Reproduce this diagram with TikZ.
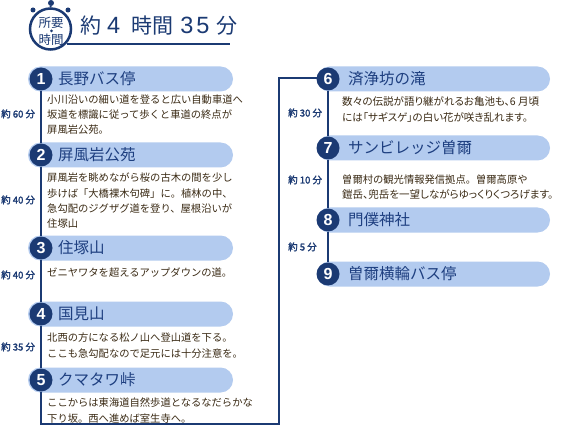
\documentclass[tikz,border=0pt]{standalone}
\usepackage{fontspec}
\setmainfont{Noto Sans CJK JP}
\newfontfamily\jp{Noto Sans CJK JP}
\newfontfamily\jpp[RawFeature=+palt]{Noto Sans CJK JP}
\newfontfamily\jpb[FakeBold=2]{Noto Sans CJK JP}
\newfontfamily\numf{Liberation Sans}
\usetikzlibrary{shapes.misc}
\definecolor{navy}{HTML}{1B3A73}
\definecolor{ttlc}{HTML}{1E3F80}
\definecolor{pillc}{HTML}{B3CBEF}
\definecolor{descc}{HTML}{3A2A14}
\begin{document}
\begin{tikzpicture}[x=1pt,y=-1pt,
 pill/.style={rounded rectangle, fill=pillc, minimum height=25pt, minimum width=#1, inner sep=0pt},
 num/.style={circle, fill=navy, minimum size=23pt, inner sep=0pt, text=white, font=\numf\bfseries\fontsize{16}{16}\selectfont},
 ttl/.style={anchor=west, inner sep=0pt, text=ttlc, font=\jp\fontsize{15.5}{16}\selectfont},
 desc/.style={anchor=base west, inner sep=0pt, text=descc, font=\jp\fontsize{10.3}{12}\selectfont},
 descp/.style={desc, font=\jpp\fontsize{10.5}{12}\selectfont},
 dur/.style={anchor=base west, inner sep=0pt, text=navy, font=\jpb\fontsize{9.5}{10}\selectfont},
 conn/.style={draw=navy, line width=2.2pt},
 knob/.style={circle, fill=navy, inner sep=0pt, minimum size=#1}]
\useasboundingbox (0,0) rectangle (564,430);
\fill[white] (0,0) rectangle (564,430);

% stopwatch header
\node[circle, draw=navy, line width=2.5pt, minimum size=41pt, inner sep=0pt] (sw) at (50.5,29) {};
\node[knob=6pt] (k1) at (51,3) {};
\node[knob=5pt] (k2) at (33,10) {};
\node[knob=5pt] (k3) at (68,10) {};
\draw[navy, line width=2pt] (k1) -- (sw.north);
\node[inner sep=0pt, text=navy, font=\jp\fontsize{12.5}{13}\selectfont] (sw1) at (51,22.5) {所要};
\node[inner sep=0pt, text=navy, font=\jp\fontsize{12.5}{13}\selectfont] (sw2) at (51,40) {時間};
\node[knob=3pt] (swd) at (51.5,31) {};
\node[anchor=west, inner sep=0pt, text=navy, font=\jp\fontsize{21}{22}\selectfont] (title) at (80,25.5)
  {約\hspace{6pt}{\numf\fontsize{23.5}{24}\selectfont 4}\hspace{11pt}時間\hspace{7pt}{\numf\fontsize{23.5}{24}\selectfont 3\hspace{3pt}5}\hspace{7pt}分};
\coordinate (u1) at (67,44);
\coordinate (u2) at (230,44);
\draw[navy, line width=1.1pt] (u1) -- (u2);

% left pills
\node[pill=205pt] (p1) at (130.5,79) {};
\node[pill=205pt] (p2) at (130.5,155) {};
\node[pill=205pt] (p3) at (130.5,248) {};
\node[pill=205pt] (p4) at (130.5,314) {};
\node[pill=205pt] (p5) at (130.5,380) {};
% right pills
\node[pill=233pt] (p6) at (433.5,79) {};
\node[pill=233pt] (p7) at (433.5,148) {};
\node[pill=233pt] (p8) at (433.5,220) {};
\node[pill=233pt] (p9) at (433.5,274) {};

% number circles
\node[num] (n1) at (41,79) {1};
\node[num] (n2) at (41,155) {2};
\node[num] (n3) at (41,248) {3};
\node[num] (n4) at (41,314) {4};
\node[num] (n5) at (41,380) {5};
\node[num] (n6) at (328,79) {6};
\node[num] (n7) at (328,148) {7};
\node[num] (n8) at (328,220) {8};
\node[num] (n9) at (328,274) {9};

% titles
\node[ttl] (t1) at (58,79) {長野バス停};
\node[ttl] (t2) at (58,155) {屏風岩公苑};
\node[ttl] (t3) at (58,248) {住塚山};
\node[ttl] (t4) at (58,314) {国見山};
\node[ttl] (t5) at (58,380) {クマタワ峠};
\node[ttl] (t6) at (348,79) {済浄坊の滝};
\node[ttl] (t7) at (348,148) {サンビレッジ曽爾};
\node[ttl] (t8) at (348,220) {門僕神社};
\node[ttl] (t9) at (348,274) {曽爾横輪バス停};

% connectors
\coordinate (c1) at (41,424);
\coordinate (c2) at (279,424);
\coordinate (c3) at (279,78);
\coordinate (c4) at (317,78);
\draw[conn] (n1.south) -- (n2.north);
\draw[conn] (n2.south) -- (n3.north);
\draw[conn] (n3.south) -- (n4.north);
\draw[conn] (n4.south) -- (n5.north);
\draw[conn] (n5.south) -- (c1) -- (c2) -- (c3) -- (c4);
\draw[conn] (n6.south) -- (n7.north);
\draw[conn] (n7.south) -- (n8.north);
\draw[conn] (n8.south) -- (n9.north);

% descriptions
\node[desc] (d1a) at (47,104) {小川沿いの細い道を登ると広い自動車道へ};
\node[desc] (d1b) at (47,119) {坂道を標識に従って歩くと車道の終点が};
\node[desc] (d1c) at (47,134) {屏風岩公苑。};
\node[desc] (d2a) at (47,182) {屏風岩を眺めながら桜の古木の間を少し};
\node[desc] (d2b) at (47,197) {歩けば「大橋裸木句碑」に。植林の中、};
\node[desc] (d2c) at (47,212) {急勾配のジグザグ道を登り、屋根沿いが};
\node[desc] (d2d) at (47,227) {住塚山};
\node[desc] (d3a) at (47,276) {ゼニヤワタを超えるアップダウンの道。};
\node[desc] (d4a) at (47,341) {北西の方になる松ノ山へ登山道を下る。};
\node[desc] (d4b) at (47,357) {ここも急勾配なので足元には十分注意を。};
\node[desc] (d5a) at (47,406) {ここからは東海道自然歩道となるなだらかな};
\node[desc] (d5b) at (47,422) {下り坂。西へ進めば室生寺へ。};
\node[descp] (d6a) at (342,106) {数々の伝説が語り継がれるお亀池も、6 月頃};
\node[descp] (d6b) at (342,122) {には「サギスゲ」の白い花が咲き乱れます。};
\node[desc] (d7a) at (342,184) {曽爾村の観光情報発信拠点。曽爾高原や};
\node[descp] (d7b) at (342,199) {鎧岳、兜岳を一望しながらゆっくりくつろげます。};

% durations
\node[dur] (m1) at (1,117.5) {約 60 分};
\node[dur] (m2) at (1,203.5) {約 40 分};
\node[dur] (m3) at (1,278.5) {約 40 分};
\node[dur] (m4) at (1,350.5) {約 35 分};
\node[dur] (m6) at (288,116.5) {約 30 分};
\node[dur] (m7) at (288,183.5) {約 10 分};
\node[dur] (m8) at (288,250.5) {約 5 分};
\end{tikzpicture}
\end{document}
